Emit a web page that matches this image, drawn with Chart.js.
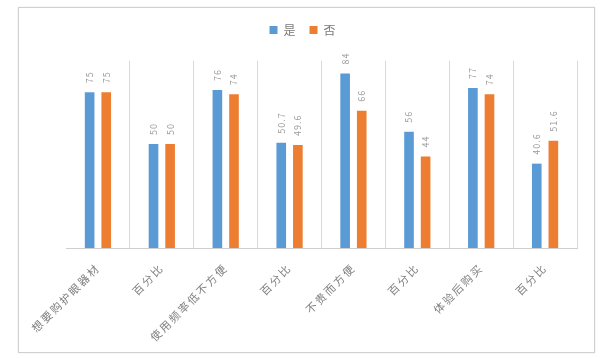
<!DOCTYPE html>
<html>
<head>
<meta charset="utf-8">
<script src="https://cdn.jsdelivr.net/npm/chart.js@4.4.0/dist/chart.umd.min.js"></script>
<style>
html,body{margin:0;padding:0;background:#fff;}
#wrap{position:relative;width:605px;height:358px;}
#frame{position:absolute;left:18px;top:7px;width:575px;height:344px;border:1px solid #d0d0d0;box-shadow:0 0 2px rgba(0,0,0,0.1);}
canvas{position:absolute;left:0;top:0;}
</style>
</head>
<body>
<div id="wrap"><div id="frame"></div><canvas id="c" width="605" height="358"></canvas></div>
<script>
const categories = ["想要购护眼器材","百分比","使用频率低不方便","百分比","不贵而方便","百分比","体验后购买","百分比"];
const yesValues = [75, 50, 76, 50.7, 84, 56, 77, 40.6];
const noValues = [75, 50, 74, 49.6, 66, 44, 74, 51.6];
const seriesNames = ["是", "否"];
const FONT = "'Noto Sans CJK SC','Noto Sans',sans-serif";

const spacing = {
  id: 'spacing',
  beforeLayout(chart) { chart.ctx.letterSpacing = '2px'; },
  beforeDraw(chart) { chart.ctx.letterSpacing = '2px'; },
  afterLayout(chart) {
    // centre the legend on the frame rather than on the plot area
    chart.legend.left -= 18;
    chart.legend.right -= 18;
  }
};

const valueLabels = {
  id: 'valueLabels',
  afterDatasetsDraw(chart) {
    const ctx = chart.ctx;
    ctx.save();
    ctx.letterSpacing = '1px';
    ctx.fillStyle = '#999999';
    ctx.font = "9px " + FONT;
    ctx.textAlign = 'left';
    ctx.textBaseline = 'middle';
    chart.data.datasets.forEach((ds, di) => {
      const meta = chart.getDatasetMeta(di);
      meta.data.forEach((bar, i) => {
        ctx.save();
        ctx.translate(bar.x, bar.y - 9);
        ctx.rotate(-Math.PI / 2);
        ctx.fillText(String(ds.data[i]), 0, 0);
        ctx.restore();
      });
    });
    ctx.restore();
  }
};

const legendHeight = {
  id: 'legendHeight',
  beforeInit(chart) {
    const orig = chart.legend.fit;
    chart.legend.fit = function () { orig.call(this); this.height = 49; };
  }
};

new Chart(document.getElementById('c'), {
  type: 'bar',
  data: {
    labels: categories,
    datasets: [
      { label: seriesNames[0], data: yesValues, backgroundColor: '#5B9BD5', borderWidth: 0 },
      { label: seriesNames[1], data: noValues, backgroundColor: '#ED7D31', borderWidth: 0 }
    ]
  },
  options: {
    responsive: false,
    animation: false,
    layout: { padding: { left: 66, right: 28, top: 12, bottom: 0 } },
    datasets: { bar: { categoryPercentage: 0.52, barPercentage: 0.58 } },
    plugins: {
      legend: {
        position: 'top',
        labels: { boxWidth: 8, boxHeight: 8, padding: 12, color: '#7a7a7a', font: { family: FONT, size: 12 } }
      },
      tooltip: { enabled: false }
    },
    scales: {
      x: {
        afterFit(scale) { scale.height = 110; },
        grid: {
          offset: true,
          drawTicks: false,
          color: (c) => c.index === 0 ? 'rgba(0,0,0,0)' : '#d9d9d9'
        },
        border: { color: '#cfcfcf' },
        ticks: {
          minRotation: 45, maxRotation: 45, padding: 13,
          color: '#808080', font: { family: FONT, size: 11 }
        }
      },
      y: { display: false, min: 0, max: 90 }
    }
  },
  plugins: [spacing, valueLabels, legendHeight]
});
</script>
</body>
</html>
